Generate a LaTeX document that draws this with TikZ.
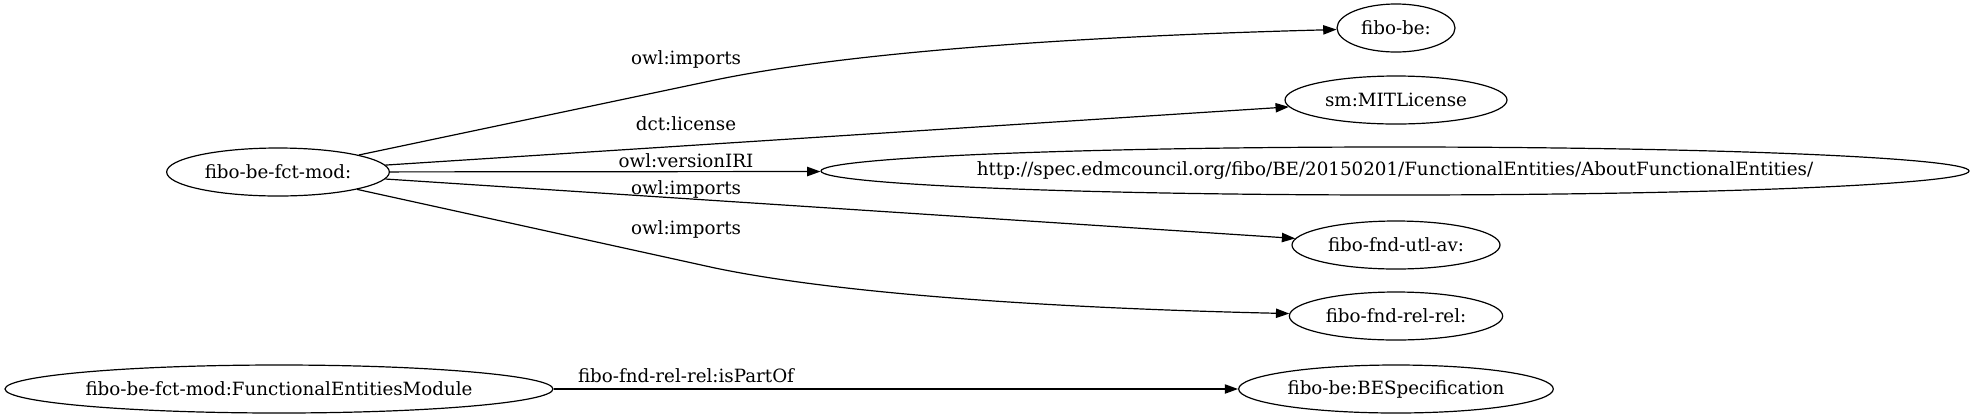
\documentclass[tikz,border=0pt]{standalone}
\usepackage{fontspec}
\setmainfont{DejaVu Serif}
\usetikzlibrary{shapes.geometric,arrows.meta}
\begin{document}
\begin{tikzpicture}[x=0.75pt,y=-0.75pt,
  every node/.style={font=\fontsize{13.7}{16}\selectfont},
  ent/.style={draw,ellipse,line width=0.9pt,inner sep=0pt,minimum height=36pt},
  lbl/.style={inner sep=0pt,anchor=base},
  rel/.style={draw,line width=0.9pt,-{Triangle[length=10pt,width=7pt]}}]
\useasboundingbox (0,0) rectangle (1976,419);
\node[ent,minimum width=167pt] (fm) at (278,172) {\makebox[0pt]{fibo-be-fct-mod:}};
\node[ent,minimum width=88.5pt] (fb) at (1396,28) {\makebox[0pt]{fibo-be:}};
\node[ent,minimum width=166.5pt] (sm) at (1396,100) {\makebox[0pt]{sm:MITLicense}};
\node[ent,minimum width=861pt] (url) at (1395,171) {\makebox[0pt]{http://spec.edmcouncil.org/fibo/BE/20150201/FunctionalEntities/AboutFunctionalEntities/}};
\node[ent,minimum width=156pt] (utl) at (1396,245) {\makebox[0pt]{fibo-fnd-utl-av:}};
\node[ent,minimum width=160pt] (rr) at (1396,316) {\makebox[0pt]{fibo-fnd-rel-rel:}};
\node[ent,minimum width=411pt] (fem) at (279,389) {\makebox[0pt]{fibo-be-fct-mod:FunctionalEntitiesModule}};
\node[ent,minimum width=236pt] (bes) at (1396,389) {\makebox[0pt]{fibo-be:BESpecification}};
\draw[rel] (fm) -- (715,80) .. controls (855,51) and (1090,36) .. (fb);
\draw[rel] (fm) -- (sm);
\draw[rel] (fm) -- (url);
\draw[rel] (fm) -- (utl);
\draw[rel] (fm) -- (715,268) .. controls (855,297) and (1090,309) .. (rr);
\draw[rel] (fem) -- (bes);
\node[lbl] (l1) at (686,64) {owl:imports};
\node[lbl] (l2) at (686,130) {dct:license};
\node[lbl] (l3) at (686,167.5) {owl:versionIRI};
\node[lbl] (l4) at (686,194) {owl:imports};
\node[lbl] (l5) at (686,234) {owl:imports};
\node[lbl] (l6) at (686,382.5) {fibo-fnd-rel-rel:isPartOf};
\end{tikzpicture}
\end{document}
